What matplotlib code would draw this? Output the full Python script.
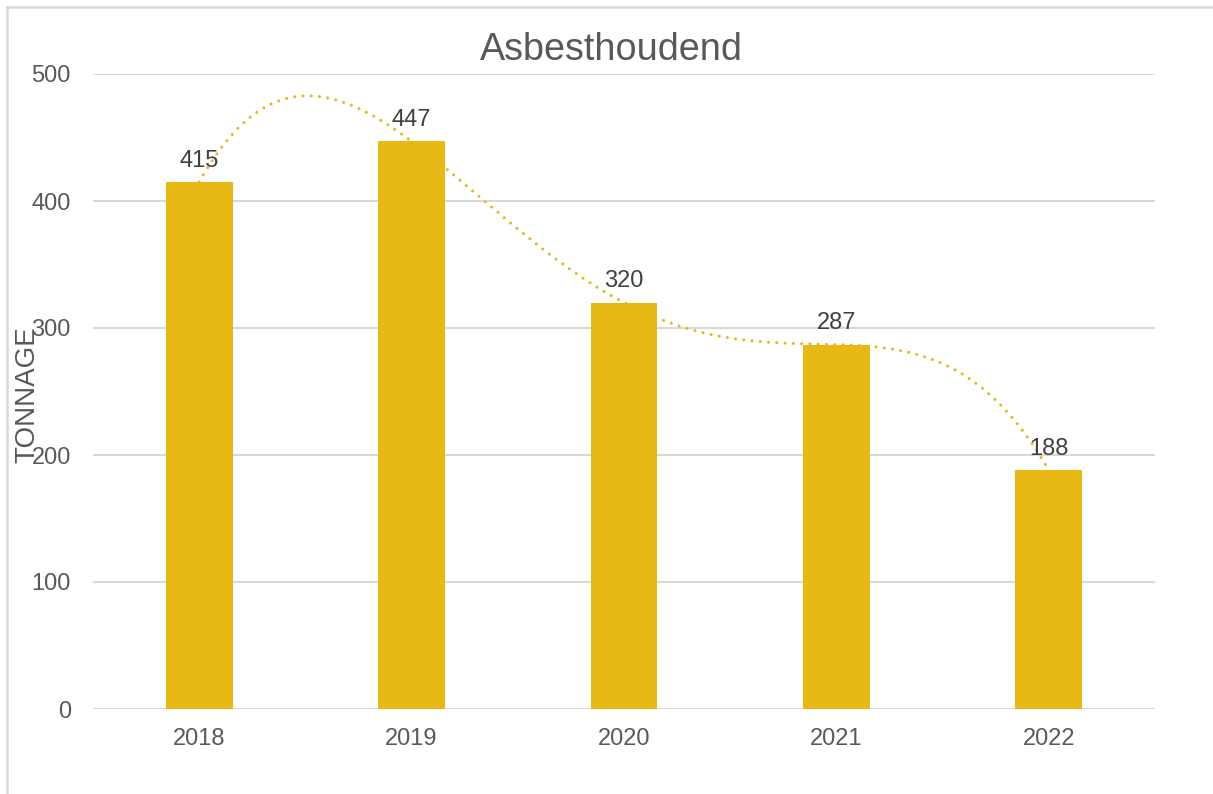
import numpy as np
import matplotlib
matplotlib.use("Agg")
import matplotlib.pyplot as plt
from matplotlib.lines import Line2D

# data
years = ["2018", "2019", "2020", "2021", "2022"]
tonnage = [415, 447, 320, 287, 188]
yticks = [0, 100, 200, 300, 400, 500]

bar_color = "#E8B815"
text_gray = "#595959"
label_gray = "#404040"
grid_gray = "#D9D9D9"

plt.rcParams["font.family"] = ["Liberation Sans", "DejaVu Sans"]

fig = plt.figure(figsize=(12.13, 7.94), dpi=100)
ax = fig.add_axes([93 / 1213, 1 - 709 / 794, 1062 / 1213, 635 / 794])

x = np.arange(len(years))
ax.bar(x, tonnage, width=0.315, color=bar_color, zorder=2)

# polynomial trendline (order 4) through the values
coef = np.polyfit(x, tonnage, 4)
xs = np.linspace(0, len(years) - 1, 400)
ax.plot(xs, np.polyval(coef, xs), color=bar_color, lw=2.2,
        linestyle=(0, (0.01, 2.7)), dash_capstyle="round", zorder=3)

for xi, v in zip(x, tonnage):
    ax.annotate(str(v), (xi, v), xytext=(0, 11), textcoords="offset points",
                ha="center", va="baseline", fontsize=17, color=label_gray, zorder=4)

ax.set_xlim(-0.5, len(years) - 0.5)
ax.set_ylim(0, 500)
ax.set_xticks(x)
ax.set_xticklabels(years)
ax.set_yticks(yticks)
ax.tick_params(axis="both", length=0, labelsize=17, labelcolor=text_gray)
ax.tick_params(axis="y", pad=16)
ax.tick_params(axis="x", pad=14)
ax.grid(axis="y", color=grid_gray, lw=1.5, zorder=0)
ax.set_axisbelow(True)
for s in ax.spines.values():
    s.set_visible(False)

ax.set_ylabel("TONNAGE", fontsize=20, color=text_gray)
ax.yaxis.set_label_coords(-0.050, 0.495)

fig.text(611 / 1213, 1 - 50 / 794, "Asbesthoudend", ha="center", va="center",
         fontsize=27.2, color=text_gray)

# outer chart border (left and top visible)
fig.add_artist(Line2D([7 / 1213, 7 / 1213], [0, 1 - 7 / 794], color=grid_gray, lw=1.8,
                      transform=fig.transFigure))
fig.add_artist(Line2D([7 / 1213, 1], [1 - 7 / 794, 1 - 7 / 794], color=grid_gray, lw=1.8,
                      transform=fig.transFigure))

fig.savefig("out.png", dpi=100)
